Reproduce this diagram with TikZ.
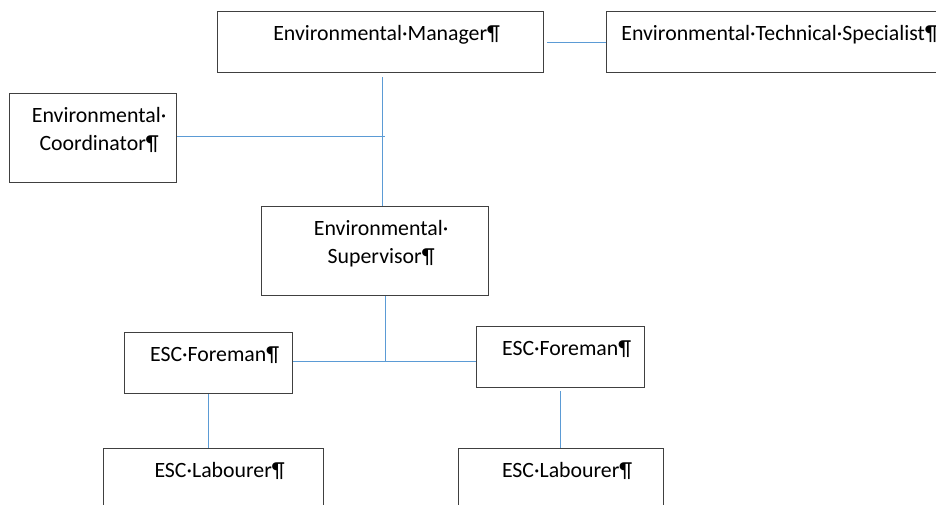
\documentclass[tikz,border=0pt]{standalone}
\usepackage{fontspec}
\setmainfont{Carlito}
\usepackage{xcolor,tikz}
\usetikzlibrary{positioning,calc}
\definecolor{orgBoxLine}{HTML}{404040}
\definecolor{orgLinkBlue}{HTML}{5B9BD5}
\def\pxu{0.55pt}
% small indent: the text sits a little right of centre, as in a word processor
\newcommand\orgind{\hspace*{6.6pt}}
\tikzset{
  org box/.style={
    rectangle, draw=orgBoxLine, line width=0.7pt,
    anchor=north west, inner sep=0pt, align=center,
    font=\fontsize{12}{15.4}\selectfont,
    text height=15.95pt,
  },
  org link/.style={
    line width=0.55pt, color=orgLinkBlue,
  },
}
\begin{document}
\begin{tikzpicture}[x=\pxu, y=-\pxu]

% --- FRAME ---
\useasboundingbox (0,0) rectangle (936,504);
\clip (0,0) rectangle (936,504);

% --- PARAMETERS ---
% id / left / top / width / height / text (all in reference pixels)
\def\orgboxes{%
  mgr/217/11/326/61/\orgind Environmental·Manager¶,%
  spec/606/11/334/61/\orgind Environmental·Technical·Specialist¶,%
  coord/9/93/167/89/\orgind Environmental·\\\orgind Coordinator¶,%
  sup/261/206/227/89/\orgind Environmental·\\\orgind Supervisor¶,%
  foreL/124/332/168/61/\orgind ESC·Foreman¶,%
  foreR/476/326/168/61/\orgind ESC·Foreman¶,%
  labL/103/448/220/90/\orgind ESC·Labourer¶,%
  labR/458/448/205/90/\orgind ESC·Labourer¶%
}

% --- DRAW BOXES ---
\foreach \id/\bx/\by/\bw/\bh/\txt in \orgboxes {
  \pgfmathsetmacro\tw{\bw * 0.55}
  \pgfmathsetmacro\td{(\bh - 29) * 0.55}
  \node[org box, text width=\tw pt, text depth=\td pt] (\id) at (\bx, \by) {\txt};
}

% --- JUNCTIONS ---
\coordinate (jTop) at (382, 136);
\coordinate (jLow) at (385, 361);

% --- CONNECTORS ---
\draw[org link, shorten <=1.65pt] (mgr.east) -- (spec.west);
\draw[org link, shorten <=2.2pt] (mgr.south -| jTop) -- (jTop |- sup.north);
\draw[org link] (coord.east |- jTop) -- ([xshift=3*\pxu]jTop);
\draw[org link] (sup.south -| jLow) -- (jLow);
\draw[org link] (jLow -| foreL.east) -- (jLow -| foreR.west);
\draw[org link] (foreL.south) -- (foreL.south |- labL.north);
\draw[org link, shorten <=1.65pt] (foreR.south) -- (foreR.south |- labR.north);

\end{tikzpicture}
\end{document}
